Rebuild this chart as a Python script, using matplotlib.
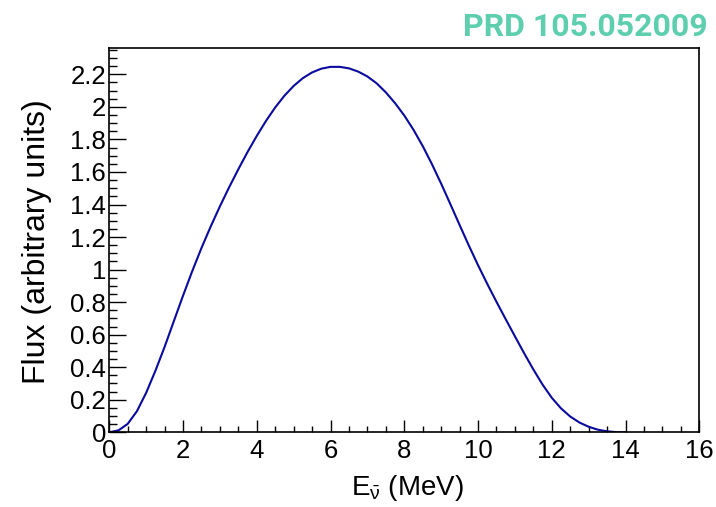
import matplotlib
matplotlib.use("Agg")
import matplotlib.pyplot as plt
from matplotlib.ticker import MultipleLocator
from matplotlib import font_manager

plt.rcParams['font.family'] = ['Liberation Sans', 'DejaVu Sans']
plt.rcParams['mathtext.fontset'] = 'custom'
plt.rcParams['mathtext.rm'] = 'Liberation Sans'
plt.rcParams['mathtext.it'] = 'Liberation Sans:italic'

# Data
energy = [0.0, 0.25, 0.5, 0.75, 1.0, 1.25, 1.5, 1.75, 2.0, 2.25, 2.5, 2.75, 3.0,
          3.25, 3.5, 3.75, 4.0, 4.25, 4.5, 4.75, 5.0, 5.25, 5.5, 5.75, 6.0,
          6.25, 6.5, 6.75, 7.0, 7.25, 7.5, 7.75, 8.0, 8.25, 8.5, 8.75, 9.0,
          9.25, 9.5, 9.75, 10.0, 10.25, 10.5, 10.75, 11.0, 11.25, 11.5, 11.75,
          12.0, 12.25, 12.5, 12.75, 13.0, 13.25, 13.5, 13.75, 14.0]
flux = [0.0, 0.012, 0.052, 0.130, 0.243, 0.378, 0.525, 0.683, 0.840, 0.991,
        1.133, 1.265, 1.389, 1.506, 1.617, 1.723, 1.822, 1.914, 1.997, 2.069,
        2.129, 2.177, 2.212, 2.235, 2.246, 2.246, 2.237, 2.217, 2.187, 2.145,
        2.089, 2.023, 1.947, 1.859, 1.759, 1.648, 1.528, 1.402, 1.274, 1.148,
        1.027, 0.912, 0.802, 0.695, 0.590, 0.486, 0.386, 0.293, 0.212, 0.147,
        0.097, 0.060, 0.034, 0.016, 0.006, 0.001, 0.0]

title_text = "PRD 105.052009"
xlabel_text = r"$\mathrm{E}_{\mathrm{\bar{\nu}}}$ (MeV)"
ylabel_text = "Flux (arbitrary units)"

W, H = 716, 507
fig = plt.figure(figsize=(W / 100, H / 100), dpi=100)
left, right, top, bottom = 109.3, 699.3, 48, 432.3
ax = fig.add_axes([left / W, 1 - bottom / H, (right - left) / W, (bottom - top) / H])

ax.plot(energy, flux, color='#0a0a9e', lw=1.5, solid_capstyle='round',
        solid_joinstyle='round')

ax.set_xlim(0, 16)
ax.set_ylim(0, 2.362)

ax.xaxis.set_major_locator(MultipleLocator(2))
ax.xaxis.set_minor_locator(MultipleLocator(0.5))
ax.yaxis.set_major_locator(MultipleLocator(0.2))
ax.yaxis.set_minor_locator(MultipleLocator(0.05))

def fmt(v, pos=None):
    s = f"{v:.1f}"
    if s.endswith(".0"):
        s = s[:-2]
    return s

ax.xaxis.set_major_formatter(plt.FuncFormatter(fmt))
ax.yaxis.set_major_formatter(plt.FuncFormatter(fmt))

ax.tick_params(axis='x', which='major', direction='in', length=8.4, width=1.0,
               labelsize=18.5, pad=4.5)
ax.tick_params(axis='x', which='minor', direction='in', length=4.1, width=1.0)
ax.tick_params(axis='y', which='major', direction='in', length=12.0, width=1.0,
               labelsize=18.5, pad=2.2)
ax.tick_params(axis='y', which='minor', direction='in', length=6.0, width=1.0)

for sp in ax.spines.values():
    sp.set_linewidth(1.2)

# axis titles placed in pixel positions matching the reference
fig.text(407 / W, 1 - 495 / H, xlabel_text, ha='center', va='baseline',
         fontsize=20)
fig.text(45 / W, 1 - 242 / H, ylabel_text, ha='center', va='baseline',
         rotation=90, rotation_mode='anchor', fontsize=23)

# title font: prefer a narrow bold sans if present
title_family = 'Roboto'
title_size = 23
try:
    font_manager.findfont(font_manager.FontProperties(family='Liberation Sans Narrow',
                                                      weight='bold'),
                          fallback_to_default=False)
    title_family = 'Liberation Sans Narrow'
    title_size = 26.8
except Exception:
    pass

fig.text(708 / W, 1 - 36 / H, title_text, ha='right', va='baseline',
         fontsize=title_size, fontweight='bold', color='#5dcfae',
         family=title_family)

fig.savefig("out.png", dpi=100)
